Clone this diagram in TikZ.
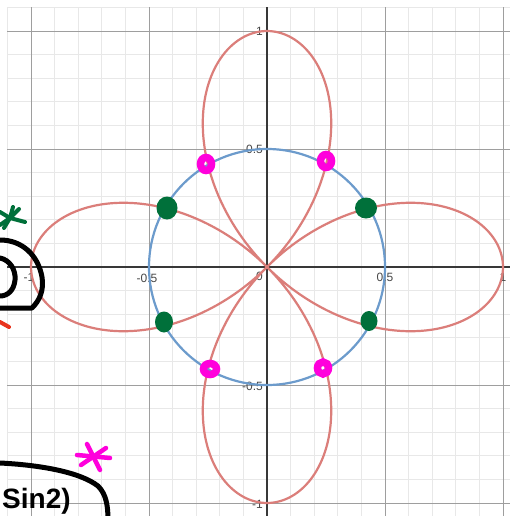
\documentclass[tikz,border=0pt]{standalone}
\usepackage{fontspec}
\setmainfont{Liberation Sans}
\definecolor{rosered}{RGB}{219,126,122}
\definecolor{circblue}{RGB}{108,155,204}
\definecolor{dotgreen}{RGB}{0,112,58}
\definecolor{dotpink}{RGB}{255,0,220}
\definecolor{inkred}{RGB}{232,52,30}
\tikzset{
  minorline/.style={draw=black!9, line width=0.8pt},
  majorline/.style={draw=black!38, line width=0.9pt},
  axisline/.style={draw=black!78, line width=1.6pt},
  ticklabel/.style={font=\fontsize{12}{14}\selectfont, text=black!72, inner sep=0pt},
  rosecurve/.style={draw=rosered, line width=2.2pt},
  circlecurve/.style={draw=circblue, line width=2.2pt},
  greendot/.style={fill=dotgreen, draw=none},
  pinkdot/.style={draw=dotpink, line width=7.5pt},
  ink/.style={draw=black, line width=5pt, line cap=round, line join=round},
  greenink/.style={draw=dotgreen, line width=4pt, line cap=round},
  pinkink/.style={draw=dotpink, line width=4.5pt, line cap=round},
  redink/.style={draw=inkred, line width=4pt, line cap=round},
  handtext/.style={font=\fontsize{28}{32}\selectfont\bfseries, text=black, inner sep=0pt},
}
\begin{document}
\begin{tikzpicture}[x=1pt,y=-1pt]
\useasboundingbox (0,0) rectangle (510,516);
\fill[white] (0,0) rectangle (510,516);
\begin{scope}
\clip (0,0) rectangle (510,516);
% minor grid
\foreach \i in {-11,...,10} {
  \draw[minorline] ({267+23.6*\i},7.4) -- ({267+23.6*\i},516);
}
\foreach \j in {-10,...,11} {
  \draw[minorline] (7.4,{267-23.6*\j}) -- (510,{267-23.6*\j});
}
% major grid
\foreach \i in {-2,-1,1,2} {
  \draw[majorline] ({267+118*\i},7.4) -- ({267+118*\i},516);
  \draw[majorline] (7.4,{267-118*\i}) -- (510,{267-118*\i});
}
% axes
\coordinate (xl) at (7.4,267);
\coordinate (xr) at (510,267);
\coordinate (yt) at (267,7.4);
\coordinate (yb) at (267,516);
\draw[axisline] (xl) -- (xr);
\draw[axisline] (yt) -- (yb);
% tick labels
\node[ticklabel] (xm1) at (29,277.5) {-1};
\node[ticklabel] (xm05) at (147,278) {-0.5};
\node[ticklabel] (x0) at (259.5,276.5) {0};
\node[ticklabel] (x05) at (385,277.5) {0.5};
\node[ticklabel] (x1) at (503,277.5) {1};
\node[ticklabel] (y1) at (259.5,31.5) {1};
\node[ticklabel] (y05) at (254.5,149.5) {0.5};
\node[ticklabel] (ym05) at (252.5,386) {-0.5};
\node[ticklabel] (ym1) at (257.5,504) {-1};
% curves
\begin{scope}[shift={(267,267)}, x=236pt, y=236pt]
  \draw[rosecurve] plot[domain=0:360, samples=480, smooth, variable=\t]
    ({cos(2*\t)*cos(\t)}, {cos(2*\t)*sin(\t)}) -- cycle;
  \draw[circlecurve] (0,0) circle (0.5);
\end{scope}
% green dots
\fill[greendot] (167,208) ellipse (10.5 and 11.5);
\fill[greendot] (366,208) ellipse (11 and 10.5);
\fill[greendot] (164,322) ellipse (9 and 10.5);
\fill[greendot] (369,321) ellipse (8.5 and 10);
% pink dots
\draw[pinkdot] (206,164) ellipse (5.5 and 6.5);
\draw[pinkdot] (326,161) ellipse (5.5 and 6.5);
\draw[pinkdot] (210,369) ellipse (6.5 and 5.5);
\draw[pinkdot] (323,368) ellipse (5.5 and 6);
% hand-drawn marks
\draw[greenink] (0,212) -- (10,218) -- (25,222);
\draw[greenink] (13,207) -- (10,218) -- (4,228);
\draw[greenink] (19,209) -- (10,218) -- (0,225);
\draw[ink] (0,240) .. controls (22,240) and (38,255) .. (42,277)
  .. controls (44,290) and (40,300) .. (32,308) -- (0,308);
\draw[ink] (0,258) .. controls (10,260) and (16,270) .. (15,280)
  .. controls (14,290) and (8,296) .. (0,296);
\draw[redink] (0,322) -- (9,327);
\draw[pinkink] (87,444) -- (100,470);
\draw[pinkink] (77,455) -- (110,458);
\draw[pinkink] (106,448) -- (81,465);
\draw[ink] (0,463) .. controls (40,465) and (80,472) .. (98,486)
  .. controls (106,494) and (108,505) .. (108,520);
\node[handtext, anchor=base west] (hand) at (2,508) {Sin2)};
\end{scope}
\end{tikzpicture}
\end{document}
